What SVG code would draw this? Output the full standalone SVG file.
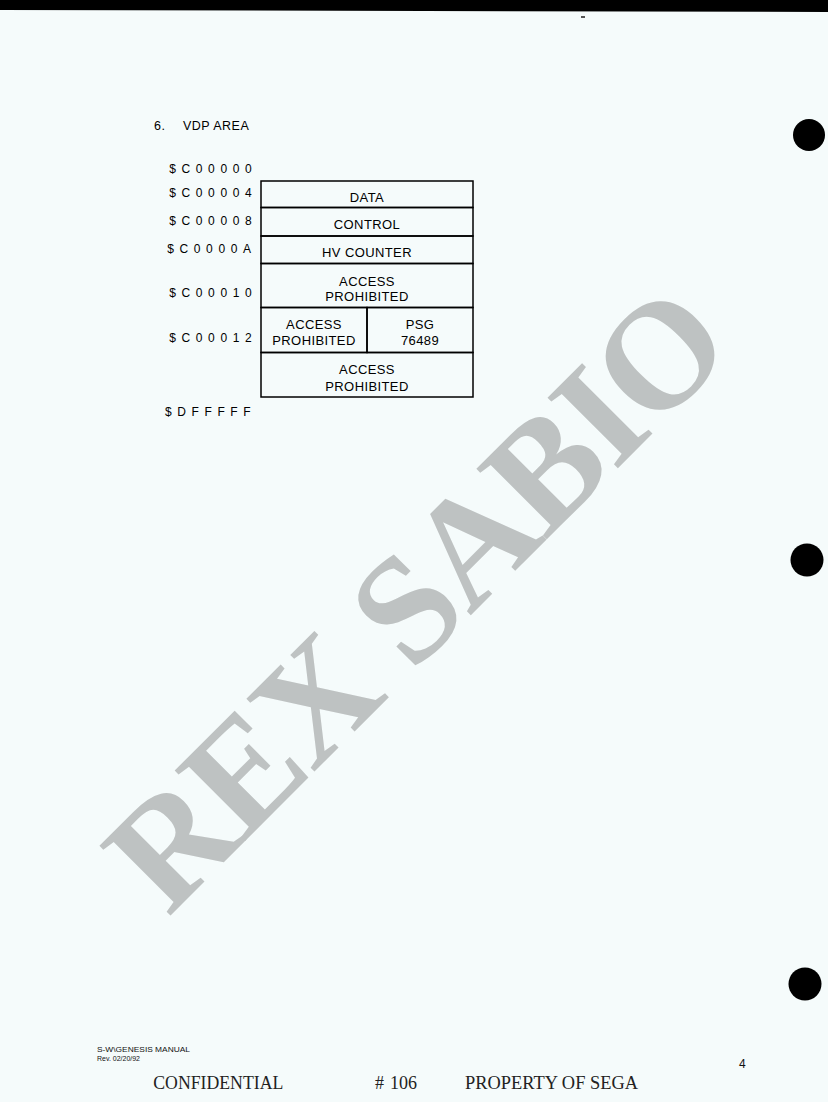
<svg xmlns="http://www.w3.org/2000/svg" width="828" height="1102" viewBox="0 0 828 1102">
<style>
.cell{fill:none;stroke:#000;stroke-width:1.5}
.t{font-family:"Liberation Sans",Arial,sans-serif;font-size:13px;letter-spacing:0.4px;fill:#000;text-anchor:middle}
.addr{font-family:"Liberation Sans",Arial,sans-serif;font-size:12px;letter-spacing:5.6px;fill:#000}
.foot{font-family:"Liberation Serif","Times New Roman",serif;font-size:18px;fill:#222}
.small{font-family:"Liberation Sans",Arial,sans-serif;font-size:7px;fill:#111}
.hole{fill:#000}
</style>
<rect x="0" y="0" width="828" height="1102" fill="#f5fbfb"/>
<polygon points="0,0 828,0 828,12 0,10" fill="#000"/>
<rect x="581" y="16" width="4" height="2" fill="#555"/>
<g id="holes">
<circle class="hole" cx="809" cy="135" r="16"/>
<circle class="hole" cx="807" cy="560" r="16.5"/>
<circle class="hole" cx="805" cy="984" r="16.5"/>
</g>
<g id="watermark">
<text x="168" y="918" transform="rotate(-45 168 918)" font-family="'Liberation Serif','Times New Roman',serif" font-weight="bold" font-size="152" fill="#bec2c2" textLength="805" lengthAdjust="spacing">REX SABIO</text>
</g>
<g id="title">
<text x="154" y="130" font-family="'Liberation Sans',Arial,sans-serif" font-size="12.5" letter-spacing="0.5" fill="#000">6.</text>
<text x="183" y="130" font-family="'Liberation Sans',Arial,sans-serif" font-size="12.5" letter-spacing="0.5" fill="#000">VDP AREA</text>
</g>
<g id="addresses">
<text class="addr" x="169.3" y="173.3">$C00000</text>
<text class="addr" x="169.3" y="197.3">$C00004</text>
<text class="addr" x="169.3" y="225">$C00008</text>
<text class="addr" x="167.3" y="252.7">$C0000A</text>
<text class="addr" x="169.3" y="297.3">$C00010</text>
<text class="addr" x="169.3" y="342.3">$C00012</text>
<text class="addr" x="165" y="416">$DFFFFF</text>
</g>
<g id="data">
<rect class="cell" x="261" y="181" width="212" height="26.5"/>
<text class="t" x="367" y="201.7">DATA</text>
</g>
<g id="control">
<rect class="cell" x="261" y="207.5" width="212" height="28.5"/>
<text class="t" x="367" y="229.3">CONTROL</text>
</g>
<g id="hv-counter">
<rect class="cell" x="261" y="236" width="212" height="27.5"/>
<text class="t" x="367" y="257.3">HV COUNTER</text>
</g>
<g id="access-prohibited-1">
<rect class="cell" x="261" y="263.5" width="212" height="44"/>
<text class="t" x="367" y="285.7">ACCESS</text>
<text class="t" x="367" y="301">PROHIBITED</text>
</g>
<g id="access-prohibited-2">
<rect class="cell" x="261" y="307.5" width="106" height="45"/>
<text class="t" x="314" y="329">ACCESS</text>
<text class="t" x="314" y="345">PROHIBITED</text>
</g>
<g id="psg">
<rect class="cell" x="367" y="307.5" width="106" height="45"/>
<text class="t" x="420" y="329">PSG</text>
<text class="t" x="420" y="345">76489</text>
</g>
<g id="access-prohibited-3">
<rect class="cell" x="261" y="352.5" width="212" height="44.5"/>
<text class="t" x="367" y="374.3">ACCESS</text>
<text class="t" x="367" y="390.7">PROHIBITED</text>
</g>
<g id="footer">
<text class="small" x="97" y="1052" textLength="93" lengthAdjust="spacingAndGlyphs">S-W\GENESIS MANUAL</text>
<text class="small" x="97" y="1061" textLength="43" lengthAdjust="spacingAndGlyphs">Rev. 02/20/92</text>
<text x="739" y="1068" font-family="'Liberation Sans',Arial,sans-serif" font-size="12" fill="#111">4</text>
<text class="foot" x="153.3" y="1089.3" textLength="130" lengthAdjust="spacingAndGlyphs">CONFIDENTIAL</text>
<text class="foot" x="375" y="1089.3">#</text>
<text class="foot" x="390" y="1089.3">106</text>
<text class="foot" x="465" y="1089.3" textLength="173" lengthAdjust="spacingAndGlyphs">PROPERTY OF SEGA</text>
</g>
</svg>
